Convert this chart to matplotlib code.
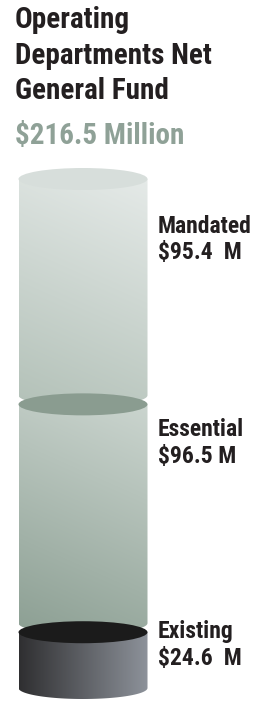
"""
Operating departments net general fund drawn as a stacked cylinder.

Three segments (Existing, Essential, Mandated) are stacked from the bottom,
with heights proportional to their amounts, and labelled on the right.
"""

from __future__ import annotations

import matplotlib

matplotlib.use("Agg")

import matplotlib.pyplot as plt
import numpy as np
from matplotlib.colors import to_rgb
from matplotlib.patches import Ellipse, PathPatch
from matplotlib.path import Path

# condensed sans, close to the original's Univers Condensed
FONT = ["Roboto Condensed", "Archivo Narrow", "DejaVu Sans"]

# data, bottom to top
CATEGORIES = ["Existing", "Essential", "Mandated"]
VALUES = [24.6, 96.5, 95.4]
AMOUNT_LABELS = ["\\$24.6  M", "\\$96.5 M", "\\$95.4  M"]
TITLE_LINES = ["Operating", "Departments Net", "General Fund"]
TOTAL_LABEL = "\\$216.5 Million"

# styling per segment: (body colour A, body colour B, gradient direction, lid)
STYLES = {
    "Existing": ("#2f2f31", "#8d929a", "horizontal", "#1b1b1b"),
    "Essential": ("#cbd5cf", "#8c9f93", "diagonal", "#8a9c90"),
    "Mandated": ("#e5eae8", "#b3c1b8", "diagonal", "#d7dedb"),
}
LABEL_POS_PX = {"Existing": 638, "Essential": 436, "Mandated": 233}  # baseline

W_PX, H_PX = 268, 703
CYL_X0, CYL_X1 = 18.5, 147.5
CYL_TOP_PX, CYL_BOTTOM_PX = 179, 688
RY_PX = 11.0
GAP = 4.0  # visual gap between segments, in $M


def gradient_image(c_a, c_b, mode, n=200):
    a = np.array(to_rgb(c_a))
    b = np.array(to_rgb(c_b))
    yy, xx = np.mgrid[0:1:n * 1j, 0:1:n * 1j]  # yy=0 at top row
    if mode == "horizontal":
        t = xx
    else:
        # light at top right, darker towards bottom left
        t = 0.8 * yy + 0.2 * (1 - xx)
        t = (t - t.min()) / (t.max() - t.min())
    return a[None, None, :] * (1 - t[..., None]) + b[None, None, :] * t[..., None]


def body_path(x0, x1, y0, y1, ry):
    """Rectangle from y0 to y1 with a half ellipse hanging below y0."""
    cx = 0.5 * (x0 + x1)
    rx = 0.5 * (x1 - x0)
    th = np.linspace(np.pi, 2 * np.pi, 60)
    arc = np.column_stack([cx + rx * np.cos(th), y0 + ry * np.sin(th)])
    verts = np.vstack([[[x0, y1]], arc, [[x1, y1]], [[x0, y1]]])
    codes = [Path.MOVETO] + [Path.LINETO] * (len(verts) - 2) + [Path.CLOSEPOLY]
    return Path(verts, codes)


def make_figure():
    fig = plt.figure(figsize=(W_PX / 100, H_PX / 100), dpi=100)

    total = sum(VALUES) + GAP * (len(VALUES) - 1)
    px_per_unit = (CYL_BOTTOM_PX - CYL_TOP_PX) / total
    ry = RY_PX / px_per_unit

    # axes spans the cylinder plus one ellipse radius above and below
    ax_top_px = CYL_TOP_PX - RY_PX - 2
    ax_bot_px = CYL_BOTTOM_PX + RY_PX + 2
    ax = fig.add_axes([0, 1 - ax_bot_px / H_PX, 1, (ax_bot_px - ax_top_px) / H_PX])
    ylim = (-(RY_PX + 2) / px_per_unit, total + (RY_PX + 2) / px_per_unit)
    ax.axis("off")

    cx = 0.5 * (CYL_X0 + CYL_X1)
    width = CYL_X1 - CYL_X0

    bottom = 0.0
    for cat, val in zip(CATEGORIES, VALUES):
        c_a, c_b, mode, lid = STYLES[cat]
        top = bottom + val
        patch = PathPatch(
            body_path(CYL_X0, CYL_X1, bottom, top, ry),
            facecolor="none",
            edgecolor="none",
        )
        ax.add_patch(patch)
        img = ax.imshow(
            gradient_image(c_a, c_b, mode),
            extent=(CYL_X0, CYL_X1, bottom - ry, top),
            aspect="auto",
            interpolation="bilinear",
            zorder=2,
        )
        img.set_clip_path(patch)
        ax.add_patch(
            Ellipse((cx, top), width, 2 * ry, facecolor=lid, edgecolor="none", zorder=3)
        )
        bottom = top + GAP

    ax.set_xlim(0, W_PX)
    ax.set_ylim(*ylim)

    # title block
    for i, line in enumerate(TITLE_LINES):
        fig.text(
            15 / W_PX,
            1 - (28 + 35.5 * i) / H_PX,
            line,
            fontsize=21,
            fontweight="bold",
            family=FONT,
            color="#231f20",
            va="baseline",
        )
    fig.text(
        15 / W_PX,
        1 - 144 / H_PX,
        TOTAL_LABEL,
        fontsize=21,
        fontweight="bold",
        family=FONT,
        color="#8fa197",
        va="baseline",
    )

    # segment labels
    for cat, amount in zip(CATEGORIES, AMOUNT_LABELS):
        base = LABEL_POS_PX[cat]
        for j, txt in enumerate([cat, amount]):
            fig.text(
                158 / W_PX,
                1 - (base + 26.5 * j) / H_PX,
                txt,
                fontsize=17,
                fontweight="bold",
                family=FONT,
                color="#231f20",
                va="baseline",
            )

    fig.savefig("out.png", dpi=100)
    plt.close(fig)


if __name__ == "__main__":
    make_figure()
